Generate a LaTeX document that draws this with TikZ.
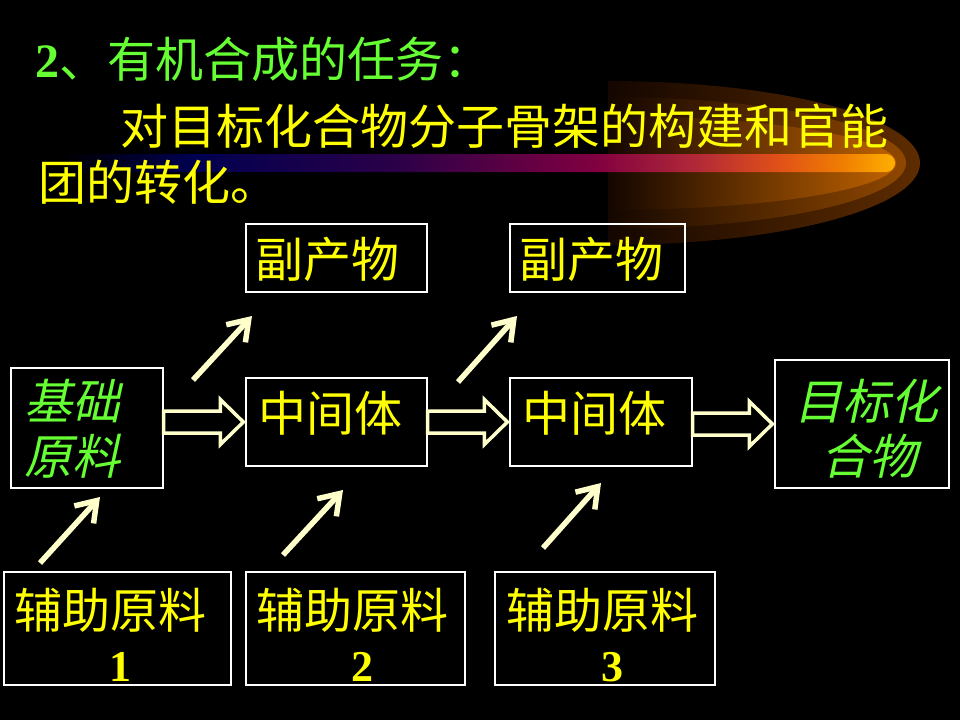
\documentclass[tikz,border=0pt]{standalone}
\usepackage{fontspec}
\setmainfont{Liberation Serif}
\newfontfamily\cjk{Noto Sans CJK SC}
\newfontfamily\cjkit[FakeSlant=0.22]{Noto Sans CJK SC}
\usetikzlibrary{arrows.meta,calc}
\definecolor{yel}{HTML}{FFFF00}
\definecolor{grn}{HTML}{66FF33}
\definecolor{arrc}{HTML}{FFFFCC}
\definecolor{gL}{HTML}{140600}
\definecolor{gA}{HTML}{5E2C00}
\definecolor{gB}{HTML}{904800}
\definecolor{gC}{HTML}{C06200}
\definecolor{sA}{HTML}{000050}
\definecolor{sB}{HTML}{2A0048}
\definecolor{sC}{HTML}{800040}
\definecolor{sD}{HTML}{B02838}
\definecolor{sE}{HTML}{E05018}
\definecolor{sF}{HTML}{F08000}
\definecolor{sG}{HTML}{FFB000}
\pgfdeclarehorizontalshading{stripe}{100bp}{color(0bp)=(black); color(25bp)=(black); color(33bp)=(sA); color(45bp)=(sB); color(57bp)=(sC); color(63bp)=(sD); color(68bp)=(sE); color(72bp)=(sF); color(75bp)=(sG); color(100bp)=(sG)}
\newcommand\hollowarrow[2]{\draw[hollow] let \p1=(#1), \p2=(#2) in (\x1,\y2+11pt) -- (\x2-25pt,\y2+11pt) -- (\x2-25pt,\y2+22.5pt) -- (\x2-2pt,\y2) -- (\x2-25pt,\y2-22.5pt) -- (\x2-25pt,\y2-11pt) -- (\x1,\y2-11pt) -- cycle;}
\tikzset{
  box/.style={draw=white, line width=1.3pt, rectangle, inner sep=0pt},
  ytext/.style={text=yel, font=\cjk\fontsize{48pt}{56pt}\selectfont, inner sep=0pt, anchor=base west},
  gtext/.style={text=grn, font=\cjkit\fontsize{48pt}{56pt}\selectfont, inner sep=0pt, anchor=base west},
  num/.style={text=yel, font=\bfseries\fontsize{44pt}{50pt}\selectfont, inner sep=0pt, anchor=base},
  hollow/.style={draw=arrc, line width=3.5pt, line join=miter},
  diag/.style={draw=arrc, line width=5.5pt, -{Straight Barb[length=19pt,width=26pt]}},
}
\begin{document}
\begin{tikzpicture}[x=1pt,y=-1pt]
\fill[black] (0,0) rectangle (960,720);
\useasboundingbox (0,0) rectangle (960,720);
% decorative glow
\shade[left color=gL, right color=gA] (608,81) arc[start angle=-90,end angle=90,x radius=312,y radius=82] -- cycle;
\shade[left color=gL, right color=gB] (608,97) arc[start angle=-90,end angle=90,x radius=298,y radius=66] -- cycle;
\shade[left color=gL, right color=gC] (608,116) arc[start angle=-90,end angle=90,x radius=288,y radius=47] -- cycle;
\shade[shading=stripe] (60,154) -- (886,154) arc[start angle=-90,end angle=90,radius=9] -- (60,172) -- cycle;
% heading text
\node[ytext, text=grn] (title) at (35,77) {{\rmfamily\bfseries\fontsize{48pt}{56pt}\selectfont 2}、有机合成的任务：};
\node[ytext] (line2) at (120,144) {对目标化合物分子骨架的构建和官能};
\node[ytext] (line3) at (38,200) {团的转化。};
% boxes
\node[box, minimum width=152, minimum height=120] (b1) at (87,428) {};
\node[box, minimum width=181, minimum height=88] (m1) at (336.5,422) {};
\node[box, minimum width=182, minimum height=88] (m2) at (601,422) {};
\node[box, minimum width=174, minimum height=128] (tg) at (862,424) {};
\node[box, minimum width=181, minimum height=68] (p1) at (336.5,258) {};
\node[box, minimum width=175, minimum height=68] (p2) at (597.5,258) {};
\node[box, minimum width=227, minimum height=113] (a1) at (117.5,628.5) {};
\node[box, minimum width=219, minimum height=113] (a2) at (355.5,628.5) {};
\node[box, minimum width=220, minimum height=113] (a3) at (605,628.5) {};
% box texts
\node[gtext] (b1t1) at (24,419) {基础};
\node[gtext] (b1t2) at (24,474) {原料};
\node[gtext, anchor=base] (tgt1) at (866,419) {目标化};
\node[gtext, anchor=base] (tgt2) at (869,474) {合物};
\node[ytext] (m1t) at (258,431) {中间体};
\node[ytext] (m2t) at (522,431) {中间体};
\node[ytext] (p1t) at (255,277) {副产物};
\node[ytext] (p2t) at (519,277) {副产物};
\node[ytext] (a1t) at (14,628) {辅助原料};
\node[ytext] (a2t) at (256,628) {辅助原料};
\node[ytext] (a3t) at (506,628) {辅助原料};
\node[num] (a1n) at (120,681) {1};
\node[num] (a2n) at (362,681) {2};
\node[num] (a3n) at (612,681) {3};
% hollow block arrows
\hollowarrow{b1.east}{m1.west}
\hollowarrow{m1.east}{m2.west}
\hollowarrow{m2.east}{tg.west}
% diagonal arrows
\coordinate (u1s) at (193,380); \coordinate (u1e) at (252,316);
\coordinate (u2s) at (458,382); \coordinate (u2e) at (517,316);
\coordinate (d1s) at (40,563);  \coordinate (d1e) at (100,497);
\coordinate (d2s) at (283,555); \coordinate (d2e) at (343,490);
\coordinate (d3s) at (543,548); \coordinate (d3e) at (601,483);
\draw[diag] (u1s) -- (u1e);
\draw[diag] (u2s) -- (u2e);
\draw[diag] (d1s) -- (d1e);
\draw[diag] (d2s) -- (d2e);
\draw[diag] (d3s) -- (d3e);
\end{tikzpicture}
\end{document}
